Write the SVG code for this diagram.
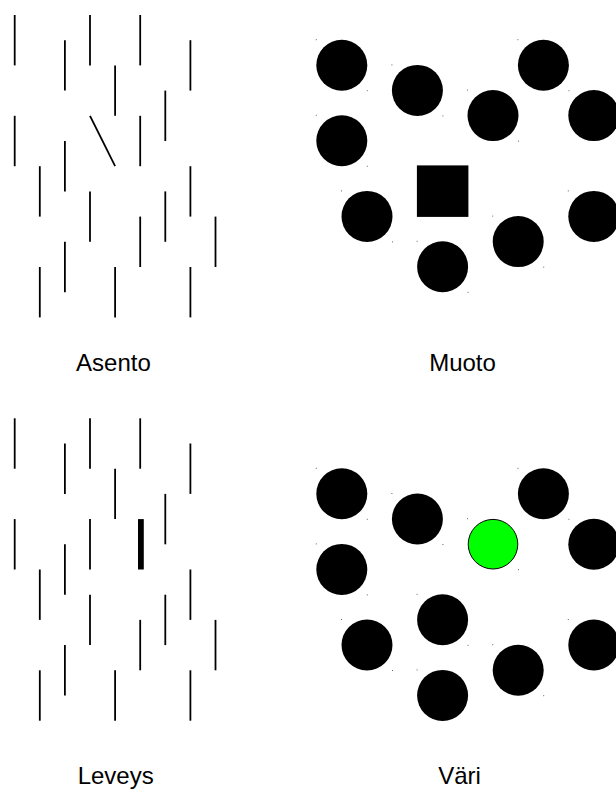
<svg xmlns="http://www.w3.org/2000/svg" width="616" height="789" viewBox="0 0 616 789">
<style>
.ln{stroke:#000;stroke-width:1.8;fill:none}
.thk{stroke:#000;stroke-width:5.8;fill:none}
.dot{fill:#000}
.grn{fill:#00ff00;stroke:#000;stroke-width:1}
.px{fill:#666}
.lbl{font-family:"Liberation Sans",Arial,sans-serif;font-size:24px;fill:#000;text-anchor:middle}
</style>
<rect width="616" height="789" fill="#fff"/>
<g id="asento">
<line class="ln" x1="14.7" y1="15" x2="14.7" y2="65.4"/>
<line class="ln" x1="64.9" y1="40.2" x2="64.9" y2="90.6"/>
<line class="ln" x1="90" y1="15" x2="90" y2="65.4"/>
<line class="ln" x1="115.1" y1="65.4" x2="115.1" y2="115.8"/>
<line class="ln" x1="140.2" y1="15" x2="140.2" y2="65.4"/>
<line class="ln" x1="190.4" y1="40.2" x2="190.4" y2="90.6"/>
<line class="ln" x1="14.7" y1="115.8" x2="14.7" y2="166.2"/>
<line class="ln" x1="64.9" y1="141" x2="64.9" y2="191.4"/>
<line class="ln" x1="90" y1="115.8" x2="115.1" y2="166.2"/>
<line class="ln" x1="140.2" y1="115.8" x2="140.2" y2="166.2"/>
<line class="ln" x1="165.3" y1="90.6" x2="165.3" y2="141"/>
<line class="ln" x1="39.8" y1="166.2" x2="39.8" y2="216.6"/>
<line class="ln" x1="190.4" y1="166.2" x2="190.4" y2="216.6"/>
<line class="ln" x1="90" y1="191.4" x2="90" y2="241.8"/>
<line class="ln" x1="165.3" y1="191.4" x2="165.3" y2="241.8"/>
<line class="ln" x1="140.2" y1="216.6" x2="140.2" y2="267"/>
<line class="ln" x1="215.5" y1="216.6" x2="215.5" y2="267"/>
<line class="ln" x1="64.9" y1="241.8" x2="64.9" y2="292.2"/>
<line class="ln" x1="39.8" y1="267" x2="39.8" y2="317.4"/>
<line class="ln" x1="115.1" y1="267" x2="115.1" y2="317.4"/>
<line class="ln" x1="190.4" y1="267" x2="190.4" y2="317.4"/>
<text class="lbl" x="113.4" y="370.5">Asento</text>
</g>
<g id="muoto">
<circle class="dot" cx="341.8" cy="65.2" r="25.5"/>
<circle class="dot" cx="417.4" cy="90.4" r="25.5"/>
<circle class="dot" cx="493" cy="115.6" r="25.5"/>
<circle class="dot" cx="543.4" cy="65.2" r="25.5"/>
<circle class="dot" cx="593.8" cy="115.6" r="25.5"/>
<circle class="dot" cx="341.8" cy="140.8" r="25.5"/>
<rect class="dot" x="416.9" y="165.4" width="51.5" height="51.5"/>
<circle class="dot" cx="367" cy="216.4" r="25.5"/>
<circle class="dot" cx="442.6" cy="266.8" r="25.5"/>
<circle class="dot" cx="518.2" cy="241.6" r="25.5"/>
<circle class="dot" cx="593.8" cy="216.4" r="25.5"/>
<g>
<rect class="px" x="315.8" y="39.2" width="1" height="1"/><rect class="px" x="366.8" y="90.2" width="1" height="1"/>
<rect class="px" x="391.4" y="64.4" width="1" height="1"/><rect class="px" x="442.4" y="115.4" width="1" height="1"/>
<rect class="px" x="467" y="89.6" width="1" height="1"/><rect class="px" x="518" y="140.6" width="1" height="1"/>
<rect class="px" x="517.4" y="39.2" width="1" height="1"/><rect class="px" x="568.4" y="90.2" width="1" height="1"/>
<rect class="px" x="315.8" y="114.8" width="1" height="1"/><rect class="px" x="366.8" y="165.8" width="1" height="1"/>
<rect class="px" x="341" y="190.4" width="1" height="1"/><rect class="px" x="392" y="241.4" width="1" height="1"/>
<rect class="px" x="416.6" y="240.8" width="1" height="1"/><rect class="px" x="467.6" y="291.8" width="1" height="1"/>
<rect class="px" x="492.2" y="215.6" width="1" height="1"/><rect class="px" x="543.2" y="266.6" width="1" height="1"/>
<rect class="px" x="567.8" y="190.4" width="1" height="1"/>
</g>
<text class="lbl" x="462.5" y="370.5">Muoto</text>
</g>
<g id="leveys">
<line class="ln" x1="14.7" y1="418.3" x2="14.7" y2="468.7"/>
<line class="ln" x1="64.9" y1="443.5" x2="64.9" y2="493.9"/>
<line class="ln" x1="90" y1="418.3" x2="90" y2="468.7"/>
<line class="ln" x1="115.1" y1="468.7" x2="115.1" y2="519.1"/>
<line class="ln" x1="140.2" y1="418.3" x2="140.2" y2="468.7"/>
<line class="ln" x1="190.4" y1="443.5" x2="190.4" y2="493.9"/>
<line class="ln" x1="14.7" y1="519.1" x2="14.7" y2="569.5"/>
<line class="ln" x1="64.9" y1="544.3" x2="64.9" y2="594.7"/>
<line class="ln" x1="90" y1="519.1" x2="90" y2="569.5"/>
<line class="thk" x1="140.9" y1="519.1" x2="140.9" y2="569.5"/>
<line class="ln" x1="165.3" y1="493.9" x2="165.3" y2="544.3"/>
<line class="ln" x1="39.8" y1="569.5" x2="39.8" y2="619.9"/>
<line class="ln" x1="190.4" y1="569.5" x2="190.4" y2="619.9"/>
<line class="ln" x1="90" y1="594.7" x2="90" y2="645.1"/>
<line class="ln" x1="165.3" y1="594.7" x2="165.3" y2="645.1"/>
<line class="ln" x1="140.2" y1="619.9" x2="140.2" y2="670.3"/>
<line class="ln" x1="215.5" y1="619.9" x2="215.5" y2="670.3"/>
<line class="ln" x1="64.9" y1="645.1" x2="64.9" y2="695.5"/>
<line class="ln" x1="39.8" y1="670.3" x2="39.8" y2="720.7"/>
<line class="ln" x1="115.1" y1="670.3" x2="115.1" y2="720.7"/>
<line class="ln" x1="190.4" y1="670.3" x2="190.4" y2="720.7"/>
<text class="lbl" x="115.7" y="783.5">Leveys</text>
</g>
<g id="vari">
<circle class="dot" cx="341.8" cy="493.8" r="25.5"/>
<circle class="dot" cx="417.4" cy="519" r="25.5"/>
<circle class="grn" cx="493" cy="544.2" r="24.8"/>
<circle class="dot" cx="543.4" cy="493.8" r="25.5"/>
<circle class="dot" cx="593.8" cy="544.2" r="25.5"/>
<circle class="dot" cx="341.8" cy="569.4" r="25.5"/>
<circle class="dot" cx="442.6" cy="619.8" r="25.5"/>
<circle class="dot" cx="367" cy="645" r="25.5"/>
<circle class="dot" cx="442.6" cy="695.4" r="25.5"/>
<circle class="dot" cx="518.2" cy="670.2" r="25.5"/>
<circle class="dot" cx="593.8" cy="645" r="25.5"/>
<g>
<rect class="px" x="315.8" y="467.8" width="1" height="1"/><rect class="px" x="366.8" y="518.8" width="1" height="1"/>
<rect class="px" x="391.4" y="493" width="1" height="1"/><rect class="px" x="442.4" y="544" width="1" height="1"/>
<rect class="px" x="467" y="518.2" width="1" height="1"/><rect class="px" x="518" y="569.2" width="1" height="1"/>
<rect class="px" x="517.4" y="467.8" width="1" height="1"/><rect class="px" x="568.4" y="518.8" width="1" height="1"/>
<rect class="px" x="315.8" y="543.4" width="1" height="1"/><rect class="px" x="366.8" y="594.4" width="1" height="1"/>
<rect class="px" x="416.6" y="593.8" width="1" height="1"/><rect class="px" x="467.6" y="644.8" width="1" height="1"/>
<rect class="px" x="341" y="619" width="1" height="1"/><rect class="px" x="392" y="670" width="1" height="1"/>
<rect class="px" x="416.6" y="669.4" width="1" height="1"/>
<rect class="px" x="492.2" y="644.2" width="1" height="1"/><rect class="px" x="543.2" y="695.2" width="1" height="1"/>
<rect class="px" x="567.8" y="619" width="1" height="1"/>
</g>
<text class="lbl" x="459.5" y="783.5">Väri</text>
</g>
<g id="connectors"/>
</svg>
